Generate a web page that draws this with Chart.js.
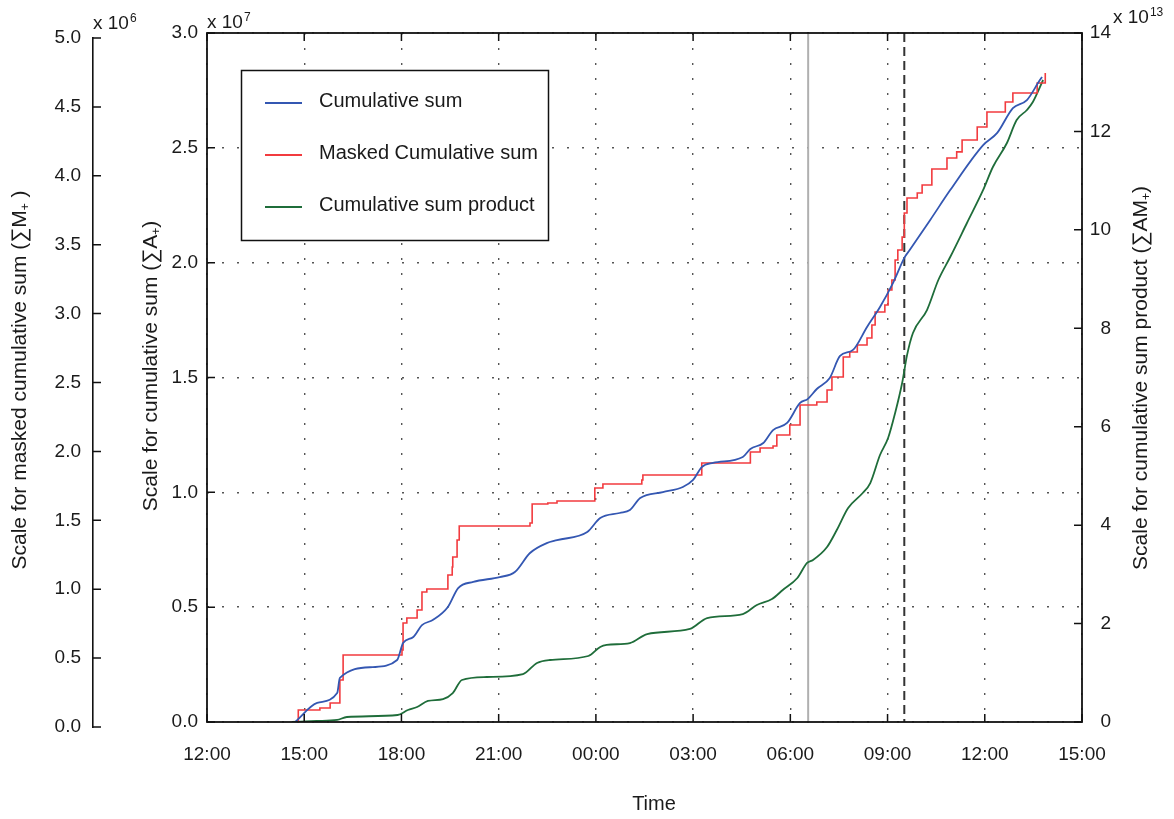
<!DOCTYPE html>
<html>
<head>
<meta charset="utf-8">
<title>Cumulative sums</title>
<script src="https://cdn.jsdelivr.net/npm/chart.js@4.4.1/dist/chart.umd.min.js"></script>
<style>
  html, body { margin: 0; padding: 0; background: #fff; }
  #wrap { position: relative; width: 1174px; height: 819px; }
</style>
</head>
<body>
<div id="wrap"><canvas id="chart"></canvas></div>
<script>
// x axis: hours after 12:00 on the first day, one tick every 3 hours
const timeTickLabels = ['12:00', '15:00', '18:00', '21:00', '00:00', '03:00', '06:00', '09:00', '12:00', '15:00'];
const timeStepHours = 3;

// Cumulative sum (x 10^7), inner left axis
const cumTimes = ['14:43', '15:24', '16:01', '16:06', '17:07', '17:52', '18:03', '18:22', '18:38', '18:58',
  '19:26', '19:45', '20:13', '21:02', '21:30', '21:58', '22:29', '22:48', '23:44', '00:08',
  '00:44', '01:03', '01:22', '02:04', '02:41', '03:00', '03:16', '03:37', '04:32', '04:46',
  '05:10', '05:28', '05:54', '06:18', '06:32', '06:49', '07:13', '07:32', '07:56', '08:22',
  '08:46', '09:10', '09:32', '09:41', '10:19', '10:56', '11:57', '12:23', '12:52', '13:18',
  '13:42', '13:46'];
const cumValues = [0, 0.083, 0.126, 0.192, 0.239, 0.270, 0.344, 0.370, 0.422, 0.444,
  0.501, 0.583, 0.610, 0.631, 0.653, 0.736, 0.779, 0.792, 0.827, 0.888,
  0.910, 0.923, 0.975, 1.001, 1.023, 1.054, 1.110, 1.128, 1.154, 1.189,
  1.215, 1.271, 1.302, 1.389, 1.406, 1.450, 1.498, 1.594, 1.620, 1.720,
  1.807, 1.911, 2.025, 2.055, 2.186, 2.316, 2.512, 2.565, 2.673, 2.708,
  2.795, 2.808];

// Masked cumulative sum (x 10^6), far left axis, value after each jump
const maskedTimes = ['14:47', '14:49', '15:29', '15:48', '16:06', '16:12', '18:01', '18:03', '18:10', '18:29',
  '18:38', '18:47', '19:26', '19:34', '19:35', '19:43', '19:47', '21:58', '22:02', '22:31',
  '22:48', '23:58', '00:13', '01:25', '01:27', '03:16', '04:46', '05:04', '05:28', '05:35',
  '05:59', '06:18', '06:49', '07:08', '07:17', '07:38', '07:50', '08:04', '08:22', '08:31',
  '08:37', '08:55', '09:01', '09:08', '09:14', '09:19', '09:27', '09:31', '09:36', '09:55',
  '10:04', '10:22', '10:50', '11:08', '11:18', '11:46', '12:04', '12:38', '12:52', '13:37',
  '13:52'];
const maskedValues = [0, 0.087, 0.102, 0.138, 0.305, 0.486, 0.523, 0.718, 0.755, 0.813,
  0.943, 0.965, 1.067, 1.125, 1.197, 1.321, 1.422, 1.444, 1.582, 1.589,
  1.604, 1.698, 1.727, 1.756, 1.792, 1.880, 1.959, 1.988, 2.003, 2.083,
  2.155, 2.300, 2.322, 2.409, 2.504, 2.649, 2.685, 2.736, 2.787, 2.881,
  2.975, 3.026, 3.135, 3.208, 3.353, 3.425, 3.520, 3.694, 3.803, 3.839,
  3.897, 4.013, 4.093, 4.137, 4.224, 4.318, 4.427, 4.499, 4.565, 4.637,
  4.710];

// Cumulative sum product (x 10^13), right axis
const productTimes = ['14:37', '15:23', '16:01', '16:19', '17:53', '18:12', '18:29', '18:49', '19:17', '19:35',
  '19:52', '20:38', '21:45', '22:11', '22:35', '23:46', '00:08', '00:20', '01:03', '01:35',
  '02:54', '03:26', '04:32', '04:58', '05:26', '05:46', '06:13', '06:31', '06:42', '07:08',
  '07:26', '07:47', '08:14', '08:28', '08:46', '09:01', '09:14', '09:27', '09:36', '09:47',
  '10:13', '10:34', '10:56', '11:27', '11:57', '12:15', '12:41', '12:59', '13:18', '13:29',
  '13:48'];
const productValues = [0, 0.020, 0.041, 0.102, 0.142, 0.244, 0.305, 0.427, 0.467, 0.589,
  0.853, 0.914, 0.975, 1.199, 1.260, 1.341, 1.524, 1.565, 1.605, 1.788,
  1.890, 2.113, 2.194, 2.377, 2.499, 2.682, 2.926, 3.231, 3.292, 3.556,
  3.901, 4.348, 4.653, 4.856, 5.425, 5.771, 6.279, 6.888, 7.450, 7.904,
  8.371, 8.981, 9.448, 10.139, 10.810, 11.277, 11.765, 12.232, 12.435, 12.598,
  13.045];

// vertical markers (next morning)
const markerGrey = '06:33';
const markerDashed = '09:31';

// axis ranges
const cumMax = 3, cumStep = 0.5;
const maskedMax = 5, maskedStep = 0.5;
const productMax = 14, productStep = 2;

const FONT = '"Liberation Sans", Arial, Helvetica, sans-serif';
const INK = '#1a1a1a';
const BLUE = '#3457b2';
const RED = '#f23b3f';
const GREEN = '#1f6d3a';

function clockHours(t) {
    const parts = t.split(':').map(Number);
    return parts[0] + parts[1] / 60;
}

// clock times run through midnight: add a day whenever the clock goes back
function toPoints(times, values) {
    let offset = 0;
    let prev = -1;
    return times.map((t, i) => {
        let h = clockHours(t) + offset;
        if (h < prev) {
            offset += 24;
            h += 24;
        }
        prev = h;
        return { x: h - 12, y: values[i] };
    });
}

function morningHours(t) {
    return clockHours(t) + 12;
}

const gridStyle = {
    color: '#555',
    lineWidth: 1.4,
    drawTicks: false
};

const decorPlugin = {
    id: 'decor',

    afterLayout(chart) {
        // the masked-sum axis sits a few pixels lower than the plot box
        const s = chart.scales.yM;
        s.top += 5;
        s.bottom += 5;
        s.configure();
    },

    beforeDatasetsDraw(chart) {
        const { ctx, chartArea: a, scales } = chart;
        ctx.save();
        ctx.lineWidth = 2;

        let px = scales.x.getPixelForValue(morningHours(markerGrey));
        ctx.strokeStyle = '#b0b0b0';
        ctx.beginPath();
        ctx.moveTo(px, a.top);
        ctx.lineTo(px, a.bottom);
        ctx.stroke();

        px = scales.x.getPixelForValue(morningHours(markerDashed));
        ctx.strokeStyle = '#333';
        ctx.setLineDash([9, 5]);
        ctx.beginPath();
        ctx.moveTo(px, a.top);
        ctx.lineTo(px, a.bottom);
        ctx.stroke();
        ctx.restore();
    },

    afterDraw(chart) {
        const { ctx, chartArea: a, scales } = chart;
        const tick = 8;
        ctx.save();

        // plot frame and inward ticks
        ctx.strokeStyle = '#111';
        ctx.lineWidth = 1.8;
        ctx.strokeRect(a.left, a.top, a.right - a.left, a.bottom - a.top);

        ctx.lineWidth = 1.5;
        ctx.beginPath();
        scales.x.ticks.forEach(t => {
            const px = scales.x.getPixelForValue(t.value);
            ctx.moveTo(px, a.bottom);
            ctx.lineTo(px, a.bottom - tick);
            ctx.moveTo(px, a.top);
            ctx.lineTo(px, a.top + tick);
        });
        scales.y.ticks.forEach(t => {
            const py = scales.y.getPixelForValue(t.value);
            ctx.moveTo(a.left, py);
            ctx.lineTo(a.left + tick, py);
        });
        scales.y2.ticks.forEach(t => {
            const py = scales.y2.getPixelForValue(t.value);
            ctx.moveTo(a.right, py);
            ctx.lineTo(a.right - tick, py);
        });
        const yM = scales.yM;
        yM.ticks.forEach(t => {
            const py = yM.getPixelForValue(t.value);
            ctx.moveTo(yM.right, py);
            ctx.lineTo(yM.right + tick, py);
        });
        ctx.stroke();

        // legend
        const lx = 241.5, ly = 70.5, lw = 307, lh = 170;
        ctx.fillStyle = '#fff';
        ctx.fillRect(lx, ly, lw, lh);
        ctx.strokeStyle = '#111';
        ctx.lineWidth = 1.5;
        ctx.strokeRect(lx, ly, lw, lh);
        const rows = [103, 155, 207];
        chart.data.datasets.forEach((ds, i) => {
            ctx.strokeStyle = ds.borderColor;
            ctx.lineWidth = 2;
            ctx.beginPath();
            ctx.moveTo(265, rows[i]);
            ctx.lineTo(302, rows[i]);
            ctx.stroke();
            ctx.fillStyle = INK;
            ctx.font = '20px ' + FONT;
            ctx.textAlign = 'left';
            ctx.textBaseline = 'middle';
            ctx.fillText(ds.label, 319, rows[i] - 2);
        });

        // exponent labels
        drawExponent(ctx, yM.right, 29, '6');
        drawExponent(ctx, a.left, 28, '7');
        drawExponent(ctx, 1113, 23, '13');

        // axis titles
        drawTitle(ctx, 18, 380, 'Scale for masked cumulative sum (\u2211M', '+', ' )');
        drawTitle(ctx, 149, 366, 'Scale for cumulative sum (\u2211A', '+', ')');
        drawTitle(ctx, 1139, 378, 'Scale for cumulative sum product (\u2211AM', '+', ')');

        ctx.fillStyle = INK;
        ctx.font = '20px ' + FONT;
        ctx.textAlign = 'center';
        ctx.textBaseline = 'alphabetic';
        ctx.fillText('Time', 654, 810);

        ctx.restore();
    }
};

function drawExponent(ctx, x, y, exp) {
    ctx.fillStyle = INK;
    ctx.textAlign = 'left';
    ctx.textBaseline = 'alphabetic';
    ctx.font = '19px ' + FONT;
    ctx.fillText('x 10', x, y);
    const w = ctx.measureText('x 10').width;
    ctx.font = '12px ' + FONT;
    ctx.fillText(exp, x + w + 1, y - 7);
}

function drawTitle(ctx, cx, cy, main, sub, tail) {
    const big = '21px ' + FONT;
    const small = '12px ' + FONT;
    ctx.save();
    ctx.translate(cx, cy);
    ctx.rotate(-Math.PI / 2);
    ctx.fillStyle = INK;
    ctx.textAlign = 'left';
    ctx.textBaseline = 'alphabetic';
    ctx.font = big;
    const w1 = ctx.measureText(main).width;
    const w3 = ctx.measureText(tail).width;
    ctx.font = small;
    const w2 = ctx.measureText(sub).width;
    let x = -(w1 + w2 + w3) / 2;
    ctx.font = big;
    ctx.fillText(main, x, 7.5);
    x += w1;
    ctx.font = small;
    ctx.fillText(sub, x, 11);
    x += w2;
    ctx.font = big;
    ctx.fillText(tail, x, 7.5);
    ctx.restore();
}

const tickFont = { family: FONT, size: 19 };

const chart = new Chart(document.getElementById('chart'), {
    type: 'line',
    data: {
        datasets: [{
            label: 'Cumulative sum',
            data: toPoints(cumTimes, cumValues),
            yAxisID: 'y',
            borderColor: BLUE,
            borderWidth: 1.8,
            pointRadius: 0,
            cubicInterpolationMode: 'monotone'
        }, {
            label: 'Masked Cumulative sum',
            data: toPoints(maskedTimes, maskedValues),
            yAxisID: 'yR',
            borderColor: RED,
            borderWidth: 1.6,
            pointRadius: 0,
            stepped: 'before'
        }, {
            label: 'Cumulative sum product',
            data: toPoints(productTimes, productValues),
            yAxisID: 'y2',
            borderColor: GREEN,
            borderWidth: 1.8,
            pointRadius: 0,
            cubicInterpolationMode: 'monotone'
        }]
    },
    options: {
        responsive: true,
        maintainAspectRatio: false,
        animation: false,
        devicePixelRatio: 1,
        // right padding leaves room for the right-aligned tick labels and the title
        layout: { padding: { top: 33, left: 0, right: 63, bottom: 0 } },
        plugins: {
            legend: { display: false },
            tooltip: { enabled: false }
        },
        scales: {
            x: {
                type: 'linear',
                min: 0,
                max: timeStepHours * (timeTickLabels.length - 1),
                ticks: {
                    stepSize: timeStepHours,
                    autoSkip: false,
                    maxRotation: 0,
                    padding: 21,
                    color: INK,
                    font: tickFont,
                    callback: (v) => timeTickLabels[Math.round(v / timeStepHours)]
                },
                grid: gridStyle,
                border: { display: false, dash: [2, 13] },
                afterFit: (s) => { s.height = 97; }
            },
            y: {
                position: 'left',
                weight: 0,
                min: 0,
                max: cumMax,
                ticks: {
                    stepSize: cumStep,
                    padding: 9,
                    color: INK,
                    font: tickFont,
                    callback: (v) => v.toFixed(1)
                },
                grid: gridStyle,
                border: { display: false, dash: [2, 13] },
                afterFit: (s) => { s.width = 114; }
            },
            yM: {
                position: 'left',
                weight: 1,
                min: 0,
                max: maskedMax,
                ticks: {
                    stepSize: maskedStep,
                    padding: 12,
                    color: INK,
                    font: tickFont,
                    callback: (v) => v.toFixed(1)
                },
                grid: { drawOnChartArea: false, drawTicks: false },
                border: { display: true, color: '#111', width: 1.6 },
                afterFit: (s) => { s.width = 93; }
            },
            yR: {
                display: false,
                min: 0,
                max: maskedMax
            },
            y2: {
                position: 'right',
                min: 0,
                max: productMax,
                ticks: {
                    stepSize: productStep,
                    padding: 8,
                    crossAlign: 'far',
                    color: INK,
                    font: tickFont
                },
                grid: { drawOnChartArea: false, drawTicks: false },
                border: { display: false },
                afterFit: (s) => { s.width = 29; }
            }
        }
    },
    plugins: [decorPlugin]
});
</script>
</body>
</html>
